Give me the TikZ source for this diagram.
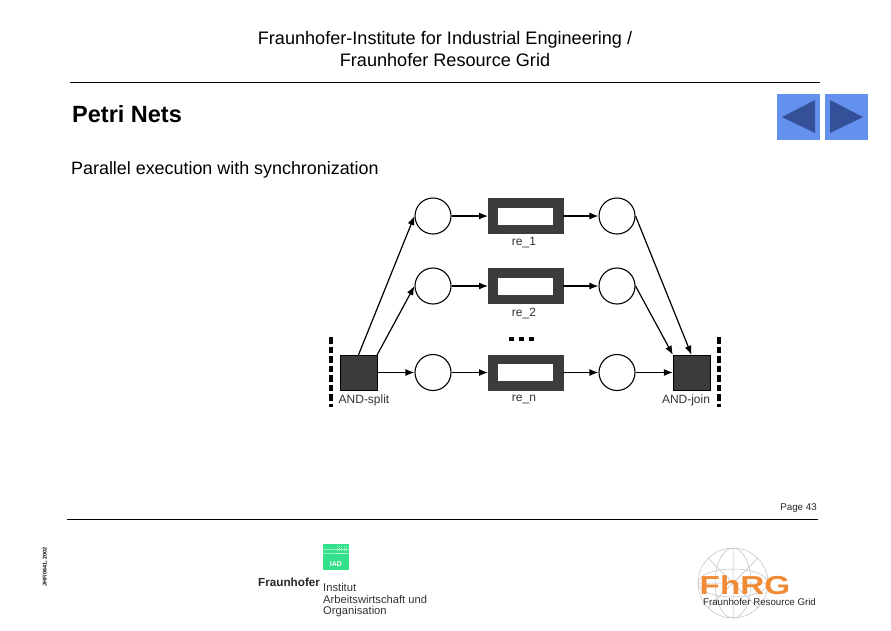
\documentclass[tikz,border=0pt]{standalone}
\usepackage{fontspec}
\setmainfont{Liberation Sans}
\usetikzlibrary{arrows.meta}
\definecolor{dk}{HTML}{3C3C3C}
\definecolor{btn}{HTML}{6490EE}
\definecolor{tri}{HTML}{345099}
\definecolor{iad}{HTML}{35E08A}
\definecolor{fhorange}{HTML}{F08A35}
\tikzset{
  x=1pt,y=-1pt,
  place/.style={circle,draw=black,line width=1.1pt,fill=white,minimum size=36pt,inner sep=0pt},
  trans/.style={rectangle,draw=dk,line width=0pt,fill=dk,minimum width=75pt,minimum height=35pt,inner sep=0pt},
  hole/.style={rectangle,fill=white,minimum width=55pt,minimum height=17pt,inner sep=0pt},
  gate/.style={rectangle,fill=dk,draw=black,line width=0.3pt,minimum width=37pt,minimum height=35pt,inner sep=0pt},
  arc/.style={draw=black,line width=1.2pt,-{Latex[length=9pt,width=7pt]}},
  lab/.style={font=\fontsize{12}{14}\selectfont,text=black!80,inner sep=0pt},
  bar/.style={draw=black,line width=3.2pt,dash pattern=on 6.5pt off 3pt},
  head/.style={font=\fontsize{18.1}{21}\selectfont,inner sep=0pt},
  rulel/.style={draw=black,line width=0.8pt},
  btnbox/.style={rectangle,fill=btn,inner sep=0pt,minimum width=43pt,minimum height=46pt},
  logot/.style={font=\fontsize{11.2}{13}\selectfont,text=black!80,inner sep=0pt,anchor=base west},
  globe/.style={draw=black!25,line width=0.5pt}
}
\begin{document}
\begin{tikzpicture}
\useasboundingbox (0,0) rectangle (891,630);
\fill[white] (0,0) rectangle (891,630);
% header
\node[head] (h1) at (445,39.5) {Fraunhofer-Institute for Industrial Engineering /};
\node[head] (h2) at (445,60) {Fraunhofer Resource Grid};
\coordinate (r1a) at (70,82); \coordinate (r1b) at (820,82);
\draw[rulel] (r1a) -- (r1b);
\node[font=\bfseries\fontsize{23.5}{27}\selectfont,anchor=west,inner sep=0pt] (title) at (72,114) {Petri Nets};
\node[font=\fontsize{17.9}{21}\selectfont,anchor=west,inner sep=0pt] (sub) at (71,169.5) {Parallel execution with synchronization};
% buttons
\node[btnbox] (bl) at (798.5,117) {};
\node[btnbox] (br) at (846.5,117) {};
\fill[tri] (815,100) -- (782,117) -- (815,133) -- cycle;
\fill[tri] (830,100) -- (863,117) -- (830,133) -- cycle;
% net
\foreach \n/\y in {a/216,b/286,c/372.5}{
  \node[place] (p\n) at (433,\y) {};
  \node[trans] (t\n) at (525.5,\y) {};
  \node[hole] at (525,\y) {};
  \node[place] (q\n) at (617,\y) {};
  \draw[arc] (p\n) -- (t\n);
  \draw[arc] (t\n) -- (q\n);
}
\node[gate] (split) at (358.5,372.5) {};
\node[gate] (join) at (691.5,372.5) {};
\draw[arc] (split.north) -- (pa.west);
\draw[arc] (split.north east) -- (pb.west);
\draw[arc] (split) -- (pc);
\draw[arc] (qa.east) -- (join.north);
\draw[arc] (qb.east) -- (join.north west);
\draw[arc] (qc) -- (join);
\node[lab] (l1) at (524,243) {re\_1};
\node[lab] (l2) at (524,313) {re\_2};
\node[lab] (l3) at (524,399.5) {re\_n};
\node[lab] (ls) at (364,400) {AND-split};
\node[lab] (lj) at (686,400) {AND-join};
\foreach \x in {511,521,531}{\fill[black] (\x-2,337) rectangle (\x+2.5,341);}
\coordinate (ba) at (331,337); \coordinate (bb) at (331,407);
\coordinate (bc) at (719,337); \coordinate (bd) at (719,407);
\draw[bar] (ba) -- (bb);
\draw[bar] (bc) -- (bd);
% footer
\node[font=\fontsize{9.8}{12}\selectfont,anchor=east,inner sep=0pt,text=black!85] (pg) at (817,508.5) {Page 43};
\coordinate (r2a) at (67,519); \coordinate (r2b) at (818,519);
\draw[rulel] (r2a) -- (r2b);
\node[rotate=90,font=\bfseries\fontsize{5.4}{6}\selectfont,inner sep=0pt] (side) at (45,567) {JHF/0641, 2002};
% IAO logo
\fill[iad] (323,544) rectangle (349,570);
\foreach \i in {0,...,4}{\foreach \j in {0,...,3}{\fill[white,opacity=.55] (336.5+\i*2.4,545.5+\j*2.4) rectangle +(1.1,1.1);}}
\draw[white,opacity=.5,line width=.4pt] (323,549) -- (349,549) (323,553) -- (349,553);
\node[font=\bfseries\fontsize{7}{8}\selectfont,text=white,inner sep=0pt] (iadt) at (336,564) {IAD};
\node[logot,font=\bfseries\fontsize{11.7}{13}\selectfont,text=black!85] (fh) at (258,586) {Fraunhofer};
\node[logot] (i1) at (323,591) {Institut};
\node[logot] (i2) at (323,603) {Arbeitswirtschaft und};
\node[logot] (i3) at (323,614.5) {Organisation};
% FhRG logo
\draw[globe] (733,583) circle (35);
\draw[globe] (733,583) ellipse (18 and 35);
\draw[globe] (733,583) ellipse (35 and 14);
\draw[globe] (698,583) -- (768,583) (733,548) -- (733,618) (708,558) -- (758,608) (758,558) -- (708,608);
\node[font=\bfseries\fontsize{26}{28}\selectfont,text=fhorange,inner sep=0pt,xscale=1.28,anchor=base] (fhrg) at (745,594) {FhRG};
\node[font=\fontsize{9.7}{11}\selectfont,text=black!85,inner sep=0pt,anchor=base] (fhrgt) at (759.5,605.5) {Fraunhofer Resource Grid};
\end{tikzpicture}
\end{document}
